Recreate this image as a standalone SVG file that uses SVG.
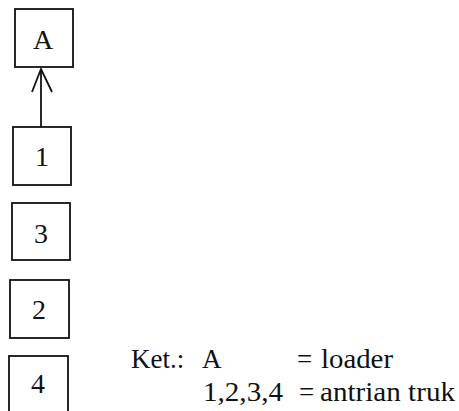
<svg xmlns="http://www.w3.org/2000/svg" width="459" height="411" viewBox="0 0 459 411">
  <style>
    .box { fill: #fff; stroke: #111; stroke-width: 1.8; }
    .lbl { font-family: "Liberation Serif", "Times New Roman", serif; font-size: 28px; fill: #111; text-anchor: middle; }
    .ket { font-family: "Liberation Serif", "Times New Roman", serif; font-size: 27px; fill: #111; }
    .edge { fill: none; stroke: #111; stroke-width: 1.8; }
  </style>
  <rect width="459" height="411" fill="#fff"/>

  <!-- connectors -->
  <g id="connectors">
    <line class="edge" x1="41" y1="127" x2="41" y2="70"/>
    <polyline class="edge" points="32,92 41,69 52,92"/>
  </g>

  <!-- loader -->
  <g id="node-A">
    <rect class="box" x="15" y="9" width="58" height="58"/>
    <text class="lbl" x="43" y="49">A</text>
  </g>

  <!-- truck queue -->
  <g id="node-1">
    <rect class="box" x="13" y="127" width="58" height="58"/>
    <text class="lbl" x="42" y="166">1</text>
  </g>
  <g id="node-3">
    <rect class="box" x="12" y="203" width="58" height="57"/>
    <text class="lbl" x="41" y="243">3</text>
  </g>
  <g id="node-2">
    <rect class="box" x="10" y="280" width="59" height="58"/>
    <text class="lbl" x="39" y="319">2</text>
  </g>
  <g id="node-4">
    <rect class="box" x="9" y="356" width="59" height="62"/>
    <text class="lbl" x="38" y="393">4</text>
  </g>

  <!-- legend -->
  <g id="legend">
    <text class="ket" x="131" y="368">Ket.:</text>
    <text class="ket" x="202" y="368">A</text>
    <text class="ket" x="297" y="368">=</text>
    <text class="ket" x="321" y="368" textLength="72" lengthAdjust="spacingAndGlyphs">loader</text>
    <text class="ket" x="203" y="401" textLength="80" lengthAdjust="spacingAndGlyphs">1,2,3,4</text>
    <text class="ket" x="299" y="401">=</text>
    <text class="ket" x="320" y="401" textLength="135" lengthAdjust="spacingAndGlyphs">antrian truk</text>
  </g>
</svg>
